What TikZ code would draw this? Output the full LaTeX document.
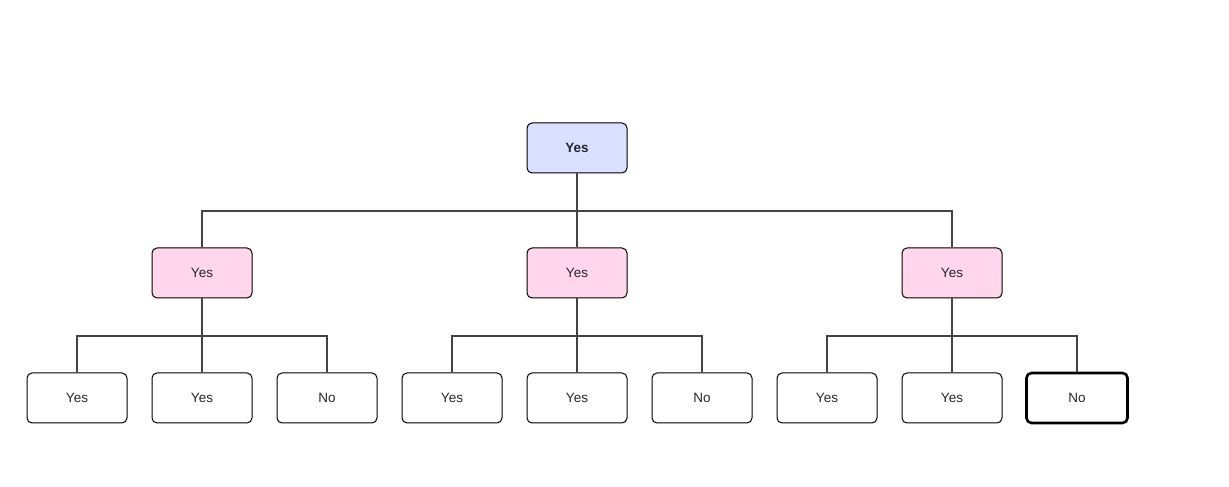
\documentclass[tikz,border=0pt]{standalone}
\usepackage{fontspec}
\setmainfont{Liberation Sans}
\definecolor{rootfill}{RGB}{218,224,255}
\definecolor{midfill}{RGB}{255,214,236}
\definecolor{wirecol}{RGB}{68,68,68}
\tikzset{
  box/.style={draw=black,line width=1pt,rounded corners=5pt,minimum width=100pt,minimum height=50pt,inner sep=0pt,font=\fontsize{13.5pt}{15pt}\selectfont,text=black!85},
  wire/.style={draw=wirecol,line width=2pt}
}

\begin{document}
\begin{tikzpicture}[x=1pt,y=1pt]
  \useasboundingbox (0,0) rectangle (1229,487);
  \node[box,fill=rootfill,font=\fontsize{13.5pt}{15pt}\selectfont\bfseries] (root) at (577,339){Yes};
  \node[box,fill=midfill] (m1) at (202,214){Yes};
  \node[box,fill=midfill] (m2) at (577,214){Yes};
  \node[box,fill=midfill] (m3) at (952,214){Yes};
  \node[box] (l1) at ( 77,89){Yes};
  \node[box] (l2) at (202,89){Yes};
  \node[box] (l3) at (327,89){No};
  \node[box] (l4) at (452,89){Yes};
  \node[box] (l5) at (577,89){Yes};
  \node[box] (l6) at (702,89){No};
  \node[box] (l7) at (827,89){Yes};
  \node[box] (l8) at (952,89){Yes};
  \node[box,line width=2.6pt,minimum width=101pt,minimum height=50pt] (l9) at (1077,89){No};
  \draw[wire] (root.south) -- ++(0,-38) -| (m1.north);
  \draw[wire] (root.south) -- (m2.north);
  \draw[wire] (root.south) -- ++(0,-38) -| (m3.north);
  \draw[wire] (m1.south) -- ++(0,-38) -| (l1.north);
  \draw[wire] (m1.south) -- (l2.north);
  \draw[wire] (m1.south) -- ++(0,-38) -| (l3.north);
  \draw[wire] (m2.south) -- ++(0,-38) -| (l4.north);
  \draw[wire] (m2.south) -- (l5.north);
  \draw[wire] (m2.south) -- ++(0,-38) -| (l6.north);
  \draw[wire] (m3.south) -- ++(0,-38) -| (l7.north);
  \draw[wire] (m3.south) -- (l8.north);
  \draw[wire] (m3.south) -- ++(0,-38) -| (l9.north);
\end{tikzpicture}
\end{document}
